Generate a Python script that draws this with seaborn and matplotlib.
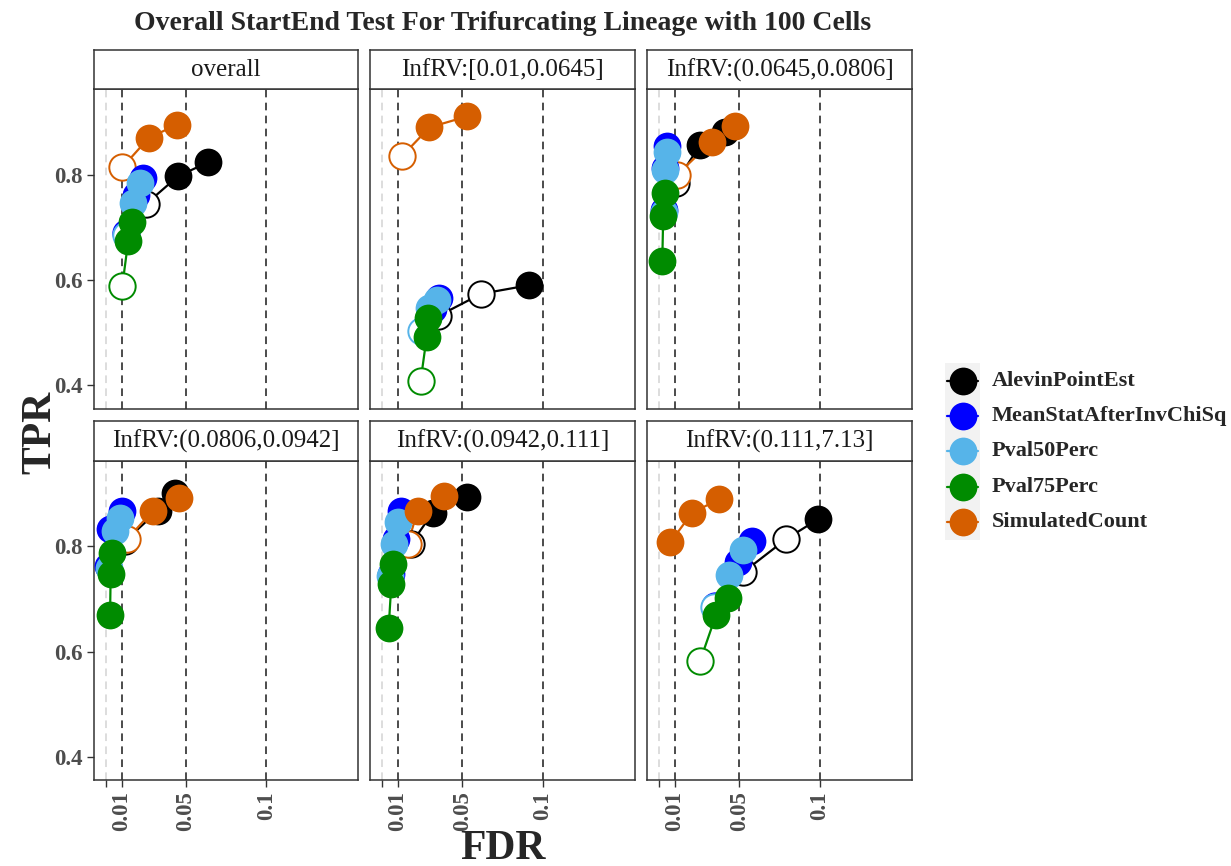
import matplotlib
matplotlib.use("Agg")
import matplotlib.pyplot as plt
import numpy as np
import pandas as pd
import seaborn as sns
from matplotlib.patches import Rectangle

sns.set_style("white")
plt.rcParams["font.family"] = ["Liberation Serif", "DejaVu Serif"]

# ---- data -------------------------------------------------------------
panels = ["overall", "InfRV:[0.01,0.0645]", "InfRV:(0.0645,0.0806]",
          "InfRV:(0.0806,0.0942]", "InfRV:(0.0942,0.111]", "InfRV:(0.111,7.13]"]
methods = ["AlevinPointEst", "MeanStatAfterInvChiSq", "Pval50Perc",
           "Pval75Perc", "SimulatedCount"]
thresholds = [0.01, 0.05, 0.1]
x_breaks = [0, 0.01, 0.05, 0.1]
x_labels = ["", "0.01", "0.05", "0.1"]
y_breaks = [0.4, 0.6, 0.8]

# FDR / TPR per panel (rows) at thresholds 0.01, 0.05, 0.1 (columns)
fdr_alevin = [[0.0254, 0.0450, 0.0639], [0.0346, 0.0618, 0.0912], [0.0105, 0.0256, 0.0410],
              [0.0120, 0.0326, 0.0435], [0.0181, 0.0315, 0.0527], [0.0524, 0.0791, 0.0991]]
tpr_alevin = [[0.745, 0.797, 0.824], [0.531, 0.574, 0.590], [0.785, 0.857, 0.882],
              [0.810, 0.868, 0.902], [0.805, 0.864, 0.894], [0.751, 0.814, 0.852]]

fdr_meanstat = [[0.0130, 0.0190, 0.0233], [0.0254, 0.0320, 0.0356], [0.0030, 0.0040, 0.0051],
                [0.0017, 0.0028, 0.0100], [0.0058, 0.0089, 0.0120], [0.0349, 0.0493, 0.0579]]
tpr_meanstat = [[0.689, 0.762, 0.794], [0.506, 0.545, 0.566], [0.734, 0.813, 0.854],
                [0.763, 0.833, 0.868], [0.748, 0.814, 0.868], [0.687, 0.770, 0.811]]

fdr_pval50 = [[0.0125, 0.0172, 0.0213], [0.0243, 0.0295, 0.0342], [0.0030, 0.0040, 0.0050],
              [0.0020, 0.0059, 0.0090], [0.0052, 0.0074, 0.0099], [0.0340, 0.0437, 0.0524]]
tpr_pval50 = [[0.685, 0.746, 0.784], [0.503, 0.547, 0.563], [0.730, 0.810, 0.844],
              [0.760, 0.830, 0.855], [0.743, 0.805, 0.846], [0.685, 0.746, 0.793]]

fdr_pval75 = [[0.0104, 0.0141, 0.0162], [0.0240, 0.0278, 0.0284], [0.0020, 0.0026, 0.0034],
              [0.0028, 0.0032, 0.0042], [0.0041, 0.0058, 0.0068], [0.0256, 0.0355, 0.0431]]
tpr_pval75 = [[0.588, 0.674, 0.711], [0.408, 0.492, 0.528], [0.636, 0.721, 0.765],
              [0.669, 0.748, 0.787], [0.645, 0.729, 0.767], [0.583, 0.670, 0.703]]

fdr_simcount = [[0.0104, 0.0269, 0.0443], [0.0123, 0.0295, 0.0530], [0.0112, 0.0328, 0.0476],
                [0.0135, 0.0295, 0.0456], [0.0160, 0.0222, 0.0387], [0.0071, 0.0205, 0.0376]]
tpr_simcount = [[0.814, 0.870, 0.895], [0.835, 0.890, 0.911], [0.800, 0.863, 0.893],
                [0.814, 0.868, 0.892], [0.805, 0.868, 0.896], [0.808, 0.864, 0.890]]

colors = ["#000000", "#0000FF", "#56B4E9", "#008B00", "#D55E00"]

fdr_all = [fdr_alevin, fdr_meanstat, fdr_pval50, fdr_pval75, fdr_simcount]
tpr_all = [tpr_alevin, tpr_meanstat, tpr_pval50, tpr_pval75, tpr_simcount]

rows = []
for m, meth in enumerate(methods):
    for p, pan in enumerate(panels):
        for t, thr in enumerate(thresholds):
            f = fdr_all[m][p][t]
            rows.append(dict(panel=pan, method=meth, thr=thr, FDR=f,
                             TPR=tpr_all[m][p][t], satis=f <= thr))
df = pd.DataFrame(rows)
palette = dict(zip(methods, colors))

# ---- layout -----------------------------------------------------------
W, H = 1231, 866
fig = plt.figure(figsize=(W / 100, H / 100), dpi=100)
col_left = [93.5, 370.0, 647.0]
panel_w = 265.0
row_top = [89.0, 460.7]
panel_h = 319.5
strip_h = 39.5
border = "#333333"

xlim = (-0.0075, 0.1575)
ylim = (0.356, 0.963)

for i, pan in enumerate(panels):
    r, c = divmod(i, 3)
    x0, y0 = col_left[c], row_top[r]
    ax = fig.add_axes([x0 / W, 1 - (y0 + panel_h) / H, panel_w / W, panel_h / H])
    sub = df[df.panel == pan]

    ax.axvline(0, color="#D3D3D3", ls=(0, (5, 3.5)), lw=1.1, zorder=0)
    for thr in thresholds:
        ax.axvline(thr, color="#1a1a1a", ls=(0, (5, 3.5)), lw=1.1, zorder=0)

    sns.lineplot(data=sub, x="FDR", y="TPR", hue="method", hue_order=methods,
                 palette=palette, sort=False, estimator=None, units="method",
                 lw=1.6, legend=False, ax=ax, zorder=2)
    # open circles (threshold not met) sit beneath the filled ones
    for meth in methods:
        hollow = sub[(sub.method == meth) & (~sub.satis)]
        sns.scatterplot(data=hollow, x="FDR", y="TPR", facecolor="white",
                        edgecolor=palette[meth], s=360, linewidth=1.4,
                        legend=False, ax=ax, zorder=2.5)
    for meth in methods:
        filled = sub[(sub.method == meth) & (sub.satis)]
        sns.scatterplot(data=filled, x="FDR", y="TPR", color=palette[meth],
                        s=400, linewidth=0, legend=False, ax=ax, zorder=3)

    ax.set_xlim(*xlim)
    ax.set_ylim(*ylim)
    ax.set_xlabel("")
    ax.set_ylabel("")
    for sp in ax.spines.values():
        sp.set_color(border)
        sp.set_linewidth(1.1)
    ax.set_xticks(x_breaks)
    ax.set_yticks(y_breaks)
    ax.tick_params(axis="both", length=5, width=1, color=border,
                   labelcolor="#4D4D4D", labelsize=16.5, pad=3)
    if r == 1:
        ax.set_xticklabels(x_labels, rotation=90, fontweight="bold")
        ax.tick_params(axis="x", bottom=True)
    else:
        ax.tick_params(axis="x", bottom=False, labelbottom=False)
    if c == 0:
        ax.set_yticklabels([f"{v:.1f}" for v in y_breaks], fontweight="bold")
        ax.tick_params(axis="y", left=True)
    else:
        ax.tick_params(axis="y", left=False, labelleft=False)

    # facet strip
    sax = fig.add_axes([x0 / W, 1 - y0 / H, panel_w / W, strip_h / H])
    sax.set_xticks([])
    sax.set_yticks([])
    sax.set_facecolor("white")
    for sp in sax.spines.values():
        sp.set_color(border)
        sp.set_linewidth(1.1)
    sax.text(0.5, 0.48, pan, ha="center", va="center", fontsize=18,
             color="#1A1A1A", transform=sax.transAxes)

# ---- titles -----------------------------------------------------------
fig.text(503 / W, 1 - 23 / H, "Overall StartEnd Test For Trifurcating Lineage with 100 Cells",
         ha="center", va="center", fontsize=20, fontweight="bold")
fig.text(40 / W, 1 - 432 / H, "TPR", ha="center", va="center", rotation=90,
         fontsize=30, fontweight="bold")
fig.text(503 / W, 1 - 849 / H, "FDR", ha="center", va="center",
         fontsize=30, fontweight="bold")

# ---- legend -----------------------------------------------------------
lax = fig.add_axes([0, 0, 1, 1], facecolor="none")
lax.set_xlim(0, W)
lax.set_ylim(H, 0)
lax.axis("off")
key_x, key_w, key_y0, key_dy = 945, 35, 363, 35.3
lax.add_patch(Rectangle((key_x, key_y0), key_w, key_dy * len(methods),
                        facecolor="#F2F2F2", edgecolor="none"))
for k, (meth, col) in enumerate(zip(methods, colors)):
    cy = key_y0 + key_dy * (k + 0.5)
    lax.plot([key_x + 2, key_x + key_w - 2], [cy, cy], color=col, lw=1.6)
    lax.scatter([key_x + key_w / 2], [cy], s=400, color=col, linewidth=0)
    lax.text(key_x + key_w + 12, cy, meth, ha="left", va="center",
             fontsize=16, fontweight="bold")

fig.savefig("out.png", dpi=100, facecolor="white")
